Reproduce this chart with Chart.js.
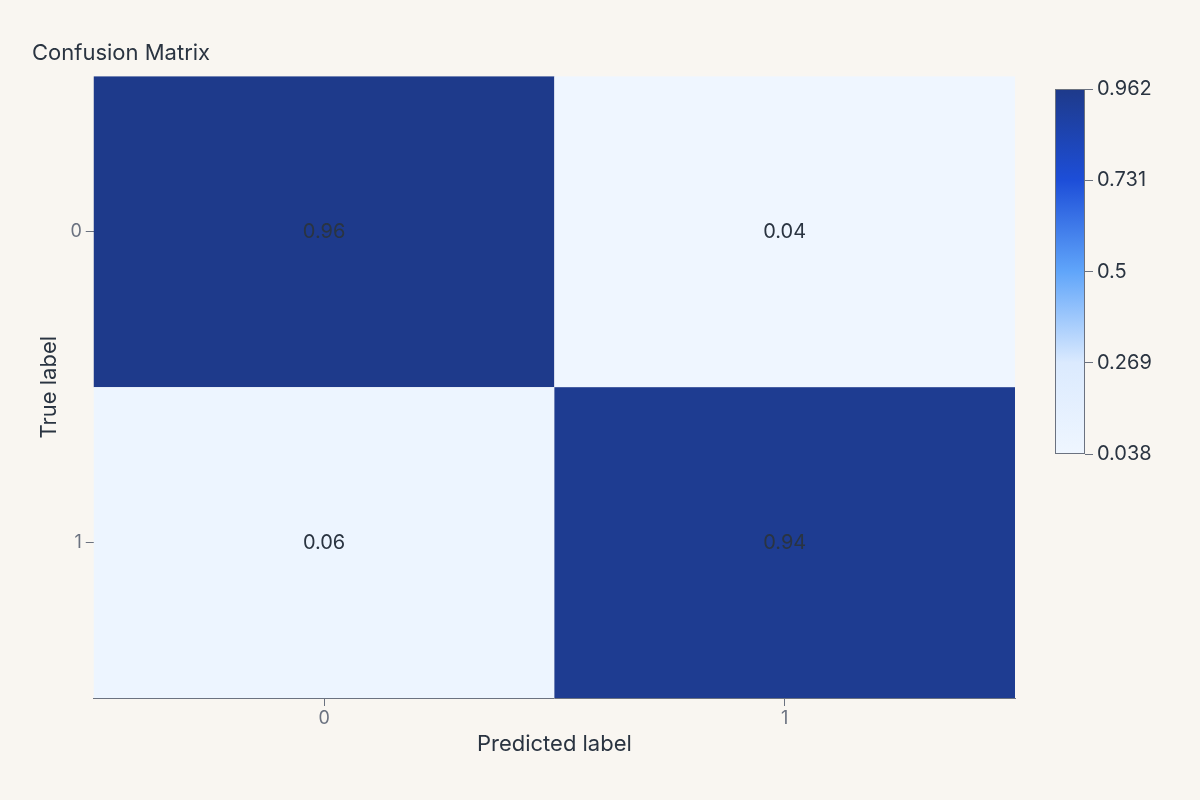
<!DOCTYPE html>
<html><head><meta charset="utf-8">
<script src="https://cdn.jsdelivr.net/npm/chart.js@4/dist/chart.umd.min.js"></script>
<style>
  body { margin:0; background:#f9f6f1; }
  #wrap { position:relative; width:1200px; height:800px; font-family:Inter, sans-serif; }
  #main { position:absolute; left:0; top:0; }
  #cb { position:absolute; left:1040px; top:73px; }
</style></head>
<body>
<div id="wrap">
  <canvas id="main" width="1200" height="800"></canvas>
  <canvas id="cb" width="160" height="397"></canvas>
</div>
<script>
const trueLabels = ['0', '1'];
const predLabels = ['0', '1'];
const matrix = [[0.96, 0.04], [0.06, 0.94]];
const cbTicks = [0.038, 0.269, 0.5, 0.731, 0.962];
const cbMin = 0.038, cbMax = 0.962;

const stops = [[0, [239,246,255]], [0.25, [219,234,254]], [0.5, [96,165,250]], [0.75, [29,78,216]], [1, [30,58,138]]];
function colorFor(v) {
  const t = Math.max(0, Math.min(1, (v - cbMin) / (cbMax - cbMin)));
  for (let i = 1; i < stops.length; i++) {
    if (t <= stops[i][0]) {
      const a = stops[i-1], b = stops[i], f = (t - a[0]) / (b[0] - a[0]);
      const c = a[1].map((x, k) => Math.round(x + (b[1][k] - x) * f));
      return `rgb(${c.join(',')})`;
    }
  }
  return 'rgb(30,58,138)';
}

const cells = [];
matrix.forEach((row, r) => row.forEach((v, c) => cells.push({ x: c, y: r, v })));

const heatmap = {
  id: 'heatmap',
  beforeDatasetsDraw(chart) {
    const { ctx, scales: { x, y } } = chart;
    ctx.save();
    cells.forEach(p => {
      const x0 = x.getPixelForValue(p.x - 0.5), x1 = x.getPixelForValue(p.x + 0.5);
      const y0 = y.getPixelForValue(p.y - 0.5), y1 = y.getPixelForValue(p.y + 0.5);
      ctx.fillStyle = colorFor(p.v);
      ctx.fillRect(x0, y0, x1 - x0, y1 - y0);
      ctx.fillStyle = '#2a3441';
      ctx.font = '20px Inter';
      ctx.textAlign = 'center';
      ctx.textBaseline = 'middle';
      ctx.fillText(p.v.toFixed(2), (x0 + x1) / 2, (y0 + y1) / 2);
    });
    ctx.restore();
  }
};

new Chart(document.getElementById('main'), {
  type: 'scatter',
  data: { datasets: [{ data: cells, pointRadius: 0 }] },
  plugins: [heatmap],
  options: {
    responsive: false, animation: false,
    layout: { padding: { left: 32, right: 185, top: 0, bottom: 42 } },
    plugins: {
      legend: { display: false }, tooltip: { enabled: false },
      title: { display: true, text: 'Confusion Matrix', align: 'start', color: '#2a3441',
               font: { family: 'Inter', size: 22, weight: 'normal' }, padding: { top: 40, bottom: 10 } }
    },
    scales: {
      x: {
        min: -0.5, max: 1.5,
        afterBuildTicks: s => { s.ticks = predLabels.map((_, i) => ({ value: i })); },
        ticks: { callback: v => predLabels[v], color: '#6b7280', font: { family: 'Inter', size: 18 }, padding: 2 },
        grid: { drawOnChartArea: false, tickLength: 8, color: '#6b7280' },
        border: { display: true, color: '#6b7280' },
        title: { display: true, text: 'Predicted label', color: '#2a3441', font: { family: 'Inter', size: 22 }, padding: { top: 0, bottom: 0 } }
      },
      y: {
        min: -0.5, max: 1.5, reverse: true,
        afterBuildTicks: s => { s.ticks = trueLabels.map((_, i) => ({ value: i })); },
        ticks: { callback: v => trueLabels[v], color: '#6b7280', font: { family: 'Inter', size: 18 }, padding: 4 },
        grid: { drawOnChartArea: false, tickLength: 8, color: '#6b7280' },
        border: { display: false },
        title: { display: true, text: 'True label', color: '#2a3441', font: { family: 'Inter', size: 22 } }
      }
    }
  }
});

const gradientBar = {
  id: 'gradientBar',
  beforeDatasetsDraw(chart) {
    const { ctx, chartArea: a, scales: { y } } = chart;
    const g = ctx.createLinearGradient(0, y.getPixelForValue(cbMin), 0, y.getPixelForValue(cbMax));
    stops.forEach(s => g.addColorStop(s[0], `rgb(${s[1].join(',')})`));
    ctx.save();
    ctx.fillStyle = g;
    ctx.fillRect(a.left, a.top, a.right - a.left, a.bottom - a.top);
    ctx.strokeStyle = '#6b7280';
    ctx.lineWidth = 1;
    ctx.strokeRect(a.left + 0.5, a.top + 0.5, a.right - a.left - 1, a.bottom - a.top - 1);
    ctx.restore();
  }
};

new Chart(document.getElementById('cb'), {
  type: 'scatter',
  data: { datasets: [{ data: [] }] },
  plugins: [gradientBar],
  options: {
    responsive: false, animation: false,
    layout: { padding: { left: 15, top: 10, bottom: 10, right: 0 } },
    plugins: { legend: { display: false }, tooltip: { enabled: false } },
    scales: {
      x: { display: false, min: 0, max: 1 },
      y: {
        position: 'right', min: cbMin, max: cbMax,
        afterBuildTicks: s => { s.ticks = cbTicks.map(v => ({ value: v })); },
        afterFit: s => { s.width = 115; },
        ticks: { callback: v => String(v), color: '#2a3441', font: { family: 'Inter', size: 20 }, padding: 4 },
        grid: { drawOnChartArea: false, tickLength: 8, color: '#6b7280' },
        border: { display: false }
      }
    }
  }
});
</script>
</body></html>
